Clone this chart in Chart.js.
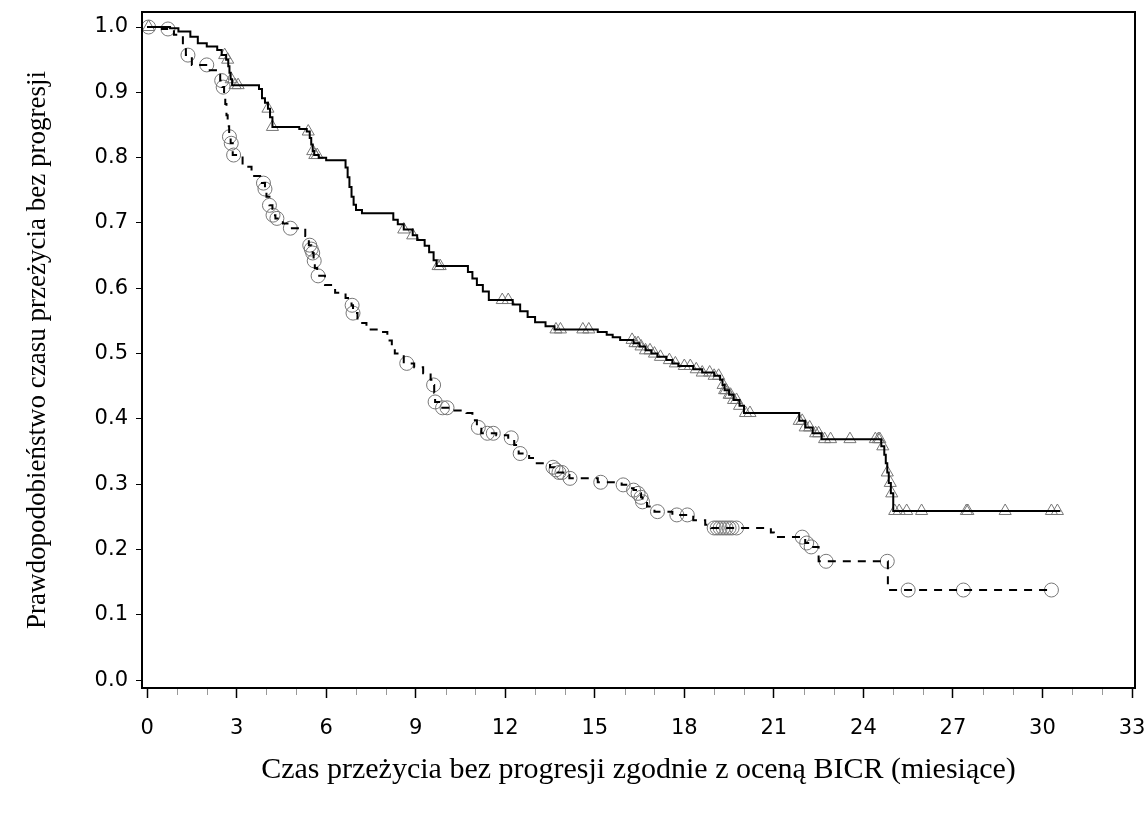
<!DOCTYPE html>
<html>
<head>
<meta charset="utf-8">
<script src="https://cdn.jsdelivr.net/npm/chart.js@4.4.1/dist/chart.umd.min.js"></script>
<style>
  html, body { margin: 0; padding: 0; background: #fff; }
</style>
</head>
<body>
<canvas id="km" width="1148" height="814"></canvas>
<script>
// Kaplan-Meier steps (months, survival probability)
const armATimes = [0, 0.77, 1.05, 1.45, 1.7, 2.0, 2.35, 2.5, 2.65, 2.72, 2.76, 2.8, 2.85, 3.75, 3.85, 3.95, 4.05, 4.12, 4.2,
  5.1, 5.35, 5.45, 5.5, 5.55, 5.6, 5.75, 6.0, 6.65, 6.72, 6.78, 6.85, 6.92, 7.0, 7.2, 8.25, 8.4, 8.6, 8.9, 9.05, 9.3, 9.45,
  9.6, 9.7, 10.75, 10.9, 11.05, 11.25, 11.45, 12.25, 12.5, 12.75, 13.0, 13.35, 13.65, 15.1, 15.4, 15.6, 15.85, 16.3, 16.5,
  16.7, 16.9, 17.1, 17.4, 17.6, 17.8, 18.3, 18.6, 19.0, 19.2, 19.28, 19.35, 19.5, 19.65, 19.85, 20.0, 21.85, 22.05, 22.3,
  22.6, 24.6, 24.7, 24.75, 24.8, 24.85, 24.92, 25.0, 30.6];
const armASurv = [1.0, 0.998, 0.993, 0.985, 0.975, 0.97, 0.965, 0.957, 0.95, 0.94, 0.93, 0.92, 0.911, 0.905, 0.891, 0.884, 0.875, 0.862, 0.847,
  0.844, 0.84, 0.83, 0.82, 0.81, 0.804, 0.80, 0.796, 0.785, 0.77, 0.755, 0.74, 0.728, 0.72, 0.715, 0.705, 0.698, 0.69, 0.681, 0.674, 0.665, 0.655,
  0.643, 0.634, 0.625, 0.615, 0.605, 0.595, 0.582, 0.575, 0.565, 0.556, 0.548, 0.542, 0.537, 0.533, 0.529, 0.525, 0.521, 0.516, 0.511,
  0.505, 0.5, 0.495, 0.49, 0.485, 0.481, 0.476, 0.471, 0.466, 0.46, 0.452, 0.444, 0.437, 0.429, 0.42, 0.409, 0.397, 0.387, 0.378,
  0.369, 0.358, 0.345, 0.332, 0.318, 0.302, 0.286, 0.259, 0.259];
const armACensor = [0.05, 2.6, 2.7, 2.82, 2.95, 3.05, 4.05, 4.2, 5.4, 5.55, 5.62, 5.7, 8.6, 8.9, 9.75, 9.82, 11.9, 12.1, 13.7, 13.85,
  14.6, 14.8, 16.25, 16.35, 16.45, 16.55, 16.7, 16.85, 17.0, 17.2, 17.5, 17.7, 18.0, 18.2, 18.4, 18.6, 18.85, 19.0, 19.15, 19.3,
  19.35, 19.4, 19.5, 19.55, 19.65, 19.75, 19.85, 20.05, 20.2, 21.85, 21.95, 22.05, 22.2, 22.4, 22.5, 22.7, 22.9, 23.55, 24.4,
  24.5, 24.55, 24.65, 24.8, 24.9, 24.95, 25.05, 25.2, 25.45, 25.95, 27.45, 27.5, 28.75, 30.3, 30.5];

const armBTimes = [0, 0.5, 0.9, 1.2, 1.3, 1.5, 2.1, 2.35, 2.45, 2.52, 2.58, 2.62, 2.66, 2.7, 2.75, 2.8, 2.87, 3.2, 3.5, 3.85, 3.95,
  4.0, 4.1, 4.2, 4.3, 4.55, 4.8, 5.3, 5.42, 5.5, 5.55, 5.58, 5.62, 5.7, 5.96, 6.3, 6.65, 6.85, 6.9, 7.05, 7.35, 7.8, 8.05, 8.2,
  8.3, 8.6, 8.95, 9.25, 9.5, 9.6, 9.62, 9.65, 9.85, 10.3, 10.7, 10.9, 11.05, 11.2, 11.7, 12.1, 12.3, 12.45, 12.8, 13.0, 13.5,
  13.65, 13.75, 13.95, 14.15, 15.1, 15.9, 16.2, 16.3, 16.45, 16.55, 16.6, 16.75, 17.0, 17.6, 18.3, 18.7, 18.9, 20.9, 21.0,
  22.05, 22.15, 22.5, 24.82, 30.3];
const armBSurv = [1.0, 0.997, 0.988, 0.972, 0.957, 0.942, 0.934, 0.927, 0.918, 0.908, 0.895, 0.882, 0.865, 0.848, 0.832, 0.822, 0.804, 0.786, 0.772, 0.761, 0.752,
  0.74, 0.727, 0.712, 0.707, 0.699, 0.692, 0.68, 0.666, 0.66, 0.654, 0.642, 0.631, 0.619, 0.605, 0.593, 0.585, 0.574, 0.562, 0.547, 0.537, 0.533, 0.52, 0.51,
  0.5, 0.485, 0.479, 0.47, 0.46, 0.452, 0.44, 0.426, 0.417, 0.413, 0.409, 0.398, 0.387, 0.378, 0.375, 0.371, 0.36, 0.347, 0.34, 0.332, 0.326,
  0.322, 0.318, 0.314, 0.309, 0.303, 0.299, 0.294, 0.291, 0.286, 0.28, 0.273, 0.266, 0.258, 0.253, 0.245, 0.238, 0.233, 0.226, 0.219,
  0.21, 0.204, 0.182, 0.138, 0.138];
const armBCensor = [0.05, 0.7, 1.37, 2.0, 2.5, 2.55, 2.76, 2.82, 2.9, 3.9, 3.95, 4.1, 4.22, 4.35, 4.8, 5.45, 5.5, 5.55, 5.6, 5.73,
  6.87, 6.9, 8.7, 9.6, 9.65, 9.9, 10.05, 11.1, 11.4, 11.6, 12.2, 12.5, 13.6, 13.7, 13.8, 13.9, 14.17, 15.2, 15.95, 16.3, 16.45,
  16.55, 16.6, 17.1, 17.75, 18.1, 19.0, 19.1, 19.2, 19.3, 19.4, 19.5, 19.6, 19.75, 21.95, 22.1, 22.25, 22.75, 24.8, 25.5, 27.35, 30.3];

const xTicks = [0, 3, 6, 9, 12, 15, 18, 21, 24, 27, 30, 33];
const yTicks = [0, 0.1, 0.2, 0.3, 0.4, 0.5, 0.6, 0.7, 0.8, 0.9, 1.0];

const yTitle = 'Prawdopodobieństwo czasu przeżycia bez progresji';
const xTitle = 'Czas przeżycia bez progresji zgodnie z oceną BICR (miesiące)';

// survival value of the step curve at time t
function survAt(times, surv, t) {
  let s = surv[0];
  for (let i = 0; i < times.length; i++) {
    if (times[i] <= t) s = surv[i];
  }
  return s;
}

const toPoints = (times, surv) => times.map((t, i) => ({ x: t, y: surv[i] }));
const censorPoints = (cens, times, surv) => cens.map(t => ({ x: t, y: survAt(times, surv, t) }));

// box around the plot + short minor ticks on the x axis
const framePlugin = {
  id: 'frame',
  afterDraw(chart) {
    const { ctx, chartArea: a } = chart;
    const x = chart.scales.x;
    ctx.save();
    ctx.strokeStyle = '#000';
    ctx.lineWidth = 2;
    ctx.strokeRect(a.left, a.top, a.right - a.left, a.bottom - a.top);
    ctx.strokeStyle = '#999';
    ctx.lineWidth = 1;
    for (let m = 1; m < 33; m++) {
      if (m % 3 === 0) continue;
      const px = Math.round(x.getPixelForValue(m)) + 0.5;
      ctx.beginPath();
      ctx.moveTo(px, a.bottom + 1);
      ctx.lineTo(px, a.bottom + 7);
      ctx.stroke();
    }
    ctx.restore();
  }
};

const tickFont = { family: 'DejaVu Sans', size: 21 };

new Chart(document.getElementById('km').getContext('2d'), {
  type: 'line',
  data: {
    datasets: [
      {
        data: toPoints(armATimes, armASurv),
        stepped: 'before',
        borderColor: '#000',
        borderWidth: 2,
        pointRadius: 0,
        fill: false
      },
      {
        data: toPoints(armBTimes, armBSurv),
        stepped: 'before',
        borderColor: '#000',
        borderWidth: 2,
        borderDash: [8, 7],
        pointRadius: 0,
        fill: false
      },
      {
        data: censorPoints(armACensor, armATimes, armASurv),
        showLine: false,
        pointStyle: 'triangle',
        pointRadius: 7,
        pointBorderWidth: 1,
        pointBorderColor: '#777',
        pointBackgroundColor: 'rgba(0,0,0,0)'
      },
      {
        data: censorPoints(armBCensor, armBTimes, armBSurv),
        showLine: false,
        pointStyle: 'circle',
        pointRadius: 7,
        pointBorderWidth: 1,
        pointBorderColor: '#777',
        pointBackgroundColor: 'rgba(0,0,0,0)'
      }
    ]
  },
  options: {
    responsive: false,
    animation: false,
    clip: false,
    layout: { padding: { top: 12, right: 13, left: 0, bottom: 0 } },
    plugins: { legend: { display: false }, tooltip: { enabled: false } },
    scales: {
      x: {
        type: 'linear',
        min: -0.17,
        max: 33.1,
        afterBuildTicks: s => { s.ticks = xTicks.map(v => ({ value: v })); },
        afterFit: s => { s.height = 126; s.paddingLeft = 0; s.paddingRight = 0; },
        ticks: { font: tickFont, color: '#000', padding: 18, maxRotation: 0, autoSkip: false, callback: v => v },
        grid: { drawOnChartArea: false, tickLength: 10, tickColor: '#000', tickWidth: 1.5 },
        border: { display: false },
        title: { display: true, text: xTitle, font: { family: 'Liberation Serif', size: 30 }, color: '#000', padding: { top: 0, bottom: 26 } }
      },
      y: {
        type: 'linear',
        min: -0.012,
        max: 1.023,
        afterBuildTicks: s => { s.ticks = yTicks.map(v => ({ value: v })); },
        afterFit: s => { s.width = 142; s.paddingTop = 0; s.paddingBottom = 0; },
        ticks: { font: tickFont, color: '#000', padding: 8, callback: v => v.toFixed(1) },
        grid: { drawOnChartArea: false, tickLength: 6, tickColor: '#000' },
        border: { display: false },
        title: { display: true, text: yTitle, font: { family: 'Liberation Serif', size: 27 }, color: '#000', padding: { top: 22, bottom: 0 } }
      }
    }
  },
  plugins: [framePlugin]
});
</script>
</body>
</html>
